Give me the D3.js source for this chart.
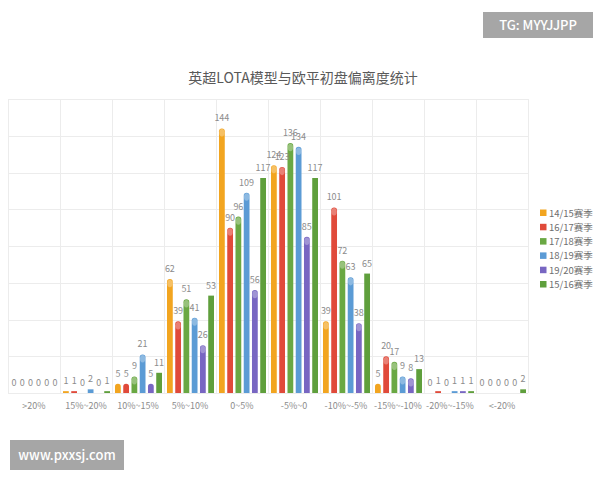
<!doctype html>
<html>
  <head>
    <meta charset="utf-8" />
    <title>英超LOTA模型与欧平初盘偏离度统计</title>
    <script src="https://cdn.jsdelivr.net/npm/d3@7/dist/d3.min.js"></script>
    <style>
      html,
      body {
        margin: 0;
        padding: 0;
        background: #fff;
        overflow: hidden;
      }
      text {
        font-family: "Noto Sans CJK SC", "Noto Sans", sans-serif;
      }
    </style>
  </head>
  <body>
    <script>
      // Categories (deviation buckets) and series (seasons)
      const categories = [
        ">20%",
        "15%~20%",
        "10%~15%",
        "5%~10%",
        "0~5%",
        "-5%~0",
        "-10%~-5%",
        "-15%~-10%",
        "-20%~-15%",
        "<-20%",
      ];
      const seasons = [
        "14/15赛季",
        "16/17赛季",
        "17/18赛季",
        "18/19赛季",
        "19/20赛季",
        "15/16赛季",
      ];
      const s1415 = [0, 1, 5, 62, 144, 124, 39, 5, 0, 0];
      const s1617 = [0, 1, 5, 39, 90, 123, 101, 20, 1, 0];
      const s1718 = [0, 0, 9, 51, 96, 136, 72, 17, 0, 0];
      const s1819 = [0, 2, 21, 41, 109, 134, 63, 9, 1, 0];
      const s1920 = [0, 0, 5, 26, 56, 85, 38, 8, 1, 0];
      const s1516 = [0, 1, 11, 53, 117, 117, 65, 13, 1, 2];
      const seriesValues = [s1415, s1617, s1718, s1819, s1920, s1516];
      const yTicks = [0, 20, 40, 60, 80, 100, 120, 140, 160];

      const width = 600;
      const height = 480;
      const colors = ["#f2a520", "#e04a3a", "#6aa843", "#5b9bd5", "#7866c2", "#5f9f3c"];
      const rounded = [true, true, true, true, true, false];

      const svg = d3
        .select("body")
        .append("svg")
        .attr("width", width)
        .attr("height", height);

      // Watermark boxes
      svg.append("rect").attr("x", 483).attr("y", 12).attr("width", 110).attr("height", 26).attr("fill", "#a6a6a6");
      svg
        .append("text")
        .attr("x", 538)
        .attr("y", 30)
        .attr("text-anchor", "middle")
        .attr("fill", "#fff")
        .attr("font-size", 13)
        .attr("font-weight", 500)
        .text("TG: MYYJJPP");

      svg.append("rect").attr("x", 10).attr("y", 440).attr("width", 114).attr("height", 30).attr("fill", "#a6a6a6");
      svg
        .append("text")
        .attr("x", 67)
        .attr("y", 459.5)
        .attr("text-anchor", "middle")
        .attr("fill", "#fff")
        .attr("font-size", 13)
        .attr("font-weight", 500)
        .text("www.pxxsj.com");

      // Title
      svg
        .append("text")
        .attr("x", 303)
        .attr("y", 83)
        .attr("text-anchor", "middle")
        .attr("fill", "#595959")
        .attr("font-size", 14)
        .text("英超LOTA模型与欧平初盘偏离度统计");

      // Scales
      const x = d3.scaleBand().domain(d3.range(categories.length)).range([8, 528]).padding(0);
      const xs = d3
        .scaleBand()
        .domain(d3.range(seasons.length))
        .range([3, x.bandwidth() - 2])
        .paddingInner(0.3);
      const y = d3.scaleLinear().domain([0, 160]).range([393, 99]);

      // Grid
      const grid = svg.append("g").attr("stroke", "#ececec").attr("stroke-width", 1);
      grid
        .selectAll("line.h")
        .data(yTicks)
        .join("line")
        .attr("class", "h")
        .attr("x1", 8)
        .attr("x2", 528)
        .attr("y1", (d) => Math.round(y(d)) + 0.5)
        .attr("y2", (d) => Math.round(y(d)) + 0.5);
      grid
        .selectAll("line.v")
        .data(d3.range(categories.length + 1))
        .join("line")
        .attr("class", "v")
        .attr("x1", (i) => Math.round(i < categories.length ? x(i) : x(i - 1) + x.bandwidth()) + 0.5)
        .attr("x2", (i) => Math.round(i < categories.length ? x(i) : x(i - 1) + x.bandwidth()) + 0.5)
        .attr("y1", y(160))
        .attr("y2", y(0));

      // Bars
      const barData = [];
      seriesValues.forEach((vals, s) => {
        vals.forEach((v, c) => barData.push({ s, c, v }));
      });

      const bw = xs.bandwidth();
      const r = bw / 2;
      function barPath(d) {
        const x0 = x(d.c) + xs(d.s);
        const top = y(d.v);
        const bottom = y(0);
        if (d.v === 0) return "";
        if (!rounded[d.s] || bottom - top < r * 2) {
          const t = Math.min(top, bottom - 1.5);
          return `M${x0},${bottom}V${t}H${x0 + bw}V${bottom}Z`;
        }
        return `M${x0},${bottom}V${top + r}A${r},${r} 0 0 1 ${x0 + bw},${top + r}V${bottom}Z`;
      }

      const bars = svg.append("g");
      bars
        .selectAll("path")
        .data(barData)
        .join("path")
        .attr("d", barPath)
        .attr("fill", (d) => colors[d.s]);

      // lighter caps on the rounded bars
      bars
        .selectAll("ellipse")
        .data(barData.filter((d) => rounded[d.s] && y(0) - y(d.v) > bw * 2))
        .join("ellipse")
        .attr("cx", (d) => x(d.c) + xs(d.s) + bw / 2)
        .attr("cy", (d) => y(d.v) + r + 1.5)
        .attr("rx", r * 0.9)
        .attr("ry", r * 1.3)
        .attr("fill", "#fff")
        .attr("fill-opacity", 0.3);

      // Value labels
      svg
        .append("g")
        .selectAll("text")
        .data(barData)
        .join("text")
        .attr("x", (d) => x(d.c) + xs(d.s) + bw / 2)
        .attr("y", (d) => y(d.v) - 7)
        .attr("text-anchor", "middle")
        .attr("fill", "#8c8c8c")
        .attr("font-size", 9)
        .text((d) => d.v);

      // Category labels
      svg
        .append("g")
        .selectAll("text")
        .data(categories)
        .join("text")
        .attr("x", (d, i) => x(i) + x.bandwidth() / 2)
        .attr("y", 409)
        .attr("text-anchor", "middle")
        .attr("fill", "#8c8c8c")
        .attr("font-size", 9)
        .text((d) => d);

      // Legend
      const legend = svg
        .append("g")
        .selectAll("g")
        .data(seasons)
        .join("g")
        .attr("transform", (d, i) => `translate(540,${213 + i * 14.3})`);
      legend
        .append("rect")
        .attr("x", 0)
        .attr("y", -3.5)
        .attr("width", 6.5)
        .attr("height", 6.5)
        .attr("fill", (d, i) => colors[i]);
      legend
        .append("text")
        .attr("x", 9)
        .attr("y", 3.5)
        .attr("fill", "#6e6e6e")
        .attr("font-size", 9.5)
        .text((d) => d);
    </script>
  </body>
</html>
